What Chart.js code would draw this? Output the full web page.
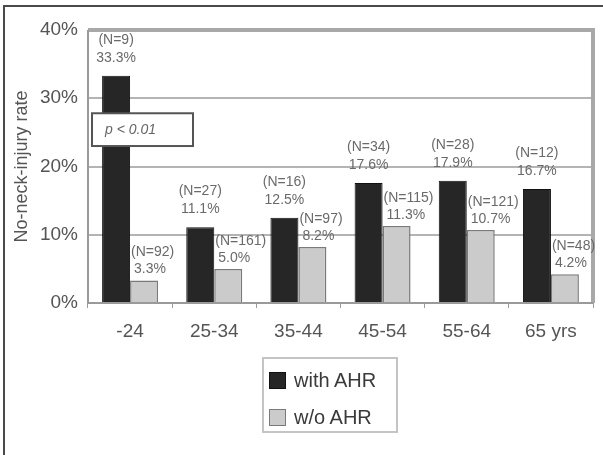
<!DOCTYPE html>
<html>
<head>
<meta charset="utf-8">
<script src="https://cdn.jsdelivr.net/npm/chart.js@4.4.0/dist/chart.umd.min.js"></script>
<style>
  body { margin: 0; background: #fff; }
  #wrap { position: relative; width: 603px; height: 455px; overflow: hidden; }
  #frame { position: absolute; left: 3px; top: 5px; right: -5px; bottom: -5px;
           border-left: 2px solid #4a4a4a; border-top: 2px solid #4a4a4a; pointer-events: none; }
  canvas { position: absolute; left: 0; top: 0; }
  #legend { position: absolute; left: 262px; top: 357px; width: 132px; height: 72px;
            border: 2px solid #c4c4c4; font: 20px "Liberation Sans", Arial, sans-serif; color: #3a3a3a; }
  .item { position: absolute; left: 5px; height: 20px; line-height: 20px; white-space: nowrap; }
  .swatch { display: inline-block; width: 15px; height: 15px; border: 1px solid; vertical-align: -2px; margin-right: 8px; }
</style>
</head>
<body>
<div id="wrap">
  <canvas id="myChart" width="603" height="455"></canvas>
  <div id="frame"></div>
  <div id="legend"></div>
</div>
<script>
const ageGroups = ['-24', '25-34', '35-44', '45-54', '55-64', '65 yrs'];
const withAHR = [33.3, 11.1, 12.5, 17.6, 17.9, 16.7];
const withoutAHR = [3.3, 5.0, 8.2, 11.3, 10.7, 4.2];
const withAHRCount = [9, 27, 16, 34, 28, 12];
const withoutAHRCount = [92, 161, 97, 115, 121, 48];
const yTickLabels = ['0%', '10%', '20%', '30%', '40%'];

const FONT = '"Liberation Sans", Arial, sans-serif';

// gray frame round the plot area
const plotFrame = {
    id: 'plotFrame',
    beforeDatasetsDraw(chart) {
        const {ctx, chartArea: a} = chart;
        ctx.save();
        ctx.strokeStyle = '#a8a8a8';
        ctx.lineWidth = 4;
        ctx.beginPath();
        ctx.moveTo(a.left, a.top);
        ctx.lineTo(a.right, a.top);
        ctx.lineTo(a.right, a.bottom);
        ctx.stroke();
        ctx.lineWidth = 2;
        ctx.strokeStyle = '#9a9a9a';
        ctx.beginPath();
        ctx.moveTo(a.left, a.top);
        ctx.lineTo(a.left, a.bottom);
        ctx.lineTo(a.right, a.bottom);
        ctx.stroke();
        ctx.restore();
    }
};

// "(N=..)" and percent above each bar, then the p-value box
const barLabels = {
    id: 'barLabels',
    afterDatasetsDraw(chart) {
        const ctx = chart.ctx;
        const counts = [withAHRCount, withoutAHRCount];
        ctx.save();
        ctx.font = '14px ' + FONT;
        ctx.fillStyle = '#6a6a6a';
        ctx.textBaseline = 'middle';
        chart.data.datasets.forEach((ds, d) => {
            chart.getDatasetMeta(d).data.forEach((bar, i) => {
                const lines = ['(N=' + counts[d][i] + ')', ds.data[i].toFixed(1) + '%'];
                if (d === 0) {
                    ctx.textAlign = 'center';
                    ctx.fillText(lines[0], bar.x, bar.y - 36);
                    ctx.fillText(lines[1], bar.x, bar.y - 18);
                } else {
                    ctx.textAlign = 'left';
                    const x = bar.x - bar.width / 2 + 1;
                    ctx.fillText(lines[0], x, bar.y - 28);
                    ctx.fillText(lines[1], x + 3, bar.y - 11);
                }
            });
        });

        const y = chart.scales.y;
        const x0 = chart.chartArea.left + 4;
        const y0 = y.getPixelForValue(27.8);
        const y1 = y.getPixelForValue(23.0);
        ctx.fillStyle = '#fff';
        ctx.fillRect(x0, y0, 101, y1 - y0);
        ctx.strokeStyle = '#555';
        ctx.lineWidth = 2;
        ctx.strokeRect(x0, y0, 101, y1 - y0);
        ctx.fillStyle = '#666';
        ctx.textAlign = 'left';
        ctx.font = 'italic 14px ' + FONT;
        ctx.fillText('p < 0.01', x0 + 13, (y0 + y1) / 2);
        ctx.restore();
    }
};

const ctx = document.getElementById('myChart').getContext('2d');

const myChart = new Chart(ctx, {
    type: 'bar',
    data: {
        labels: ageGroups,
        datasets: [{
            label: 'with AHR',
            data: withAHR,
            backgroundColor: '#262626',
            borderColor: '#111111',
            borderWidth: 1
        }, {
            label: 'w/o AHR',
            data: withoutAHR,
            backgroundColor: '#cbcbcb',
            borderColor: '#7a7a7a',
            borderWidth: 1.5
        }]
    },
    options: {
        responsive: false,
        animation: false,
        devicePixelRatio: 1,
        layout: { padding: { top: 30, right: 10, left: 0, bottom: 0 } },
        datasets: { bar: { categoryPercentage: 0.665, barPercentage: 1.0 } },
        plugins: {
            legend: { display: false },
            tooltip: { enabled: false }
        },
        scales: {
            x: {
                grid: { display: true, drawOnChartArea: false, drawTicks: true, tickLength: 5, offset: true, color: '#999' },
                border: { display: false },
                ticks: { color: '#555', font: { size: 19, family: FONT }, padding: 12 },
                afterFit(scale) { scale.height = 152; }
            },
            y: {
                min: 0,
                max: 40,
                border: { display: false },
                grid: { color: '#b4b4b4', lineWidth: 2, drawTicks: false },
                ticks: {
                    stepSize: 10,
                    padding: 10,
                    color: '#555',
                    font: { size: 19, family: FONT },
                    callback: (v, i) => yTickLabels[i]
                },
                title: {
                    display: true,
                    text: 'No-neck-injury rate',
                    color: '#555',
                    font: { size: 18, family: FONT },
                    padding: { top: 11, bottom: 0 }
                },
                afterFit(scale) { scale.width = 88; }
            }
        }
    },
    plugins: [plotFrame, barLabels]
});

// legend box below the chart, built from the datasets
const legend = document.getElementById('legend');
myChart.data.datasets.forEach((ds, i) => {
    const item = document.createElement('div');
    item.className = 'item';
    item.style.top = (11 + i * 37) + 'px';
    const sw = document.createElement('span');
    sw.className = 'swatch';
    sw.style.background = ds.backgroundColor;
    sw.style.borderColor = ds.borderColor;
    item.appendChild(sw);
    item.appendChild(document.createTextNode(ds.label));
    legend.appendChild(item);
});
</script>
</body>
</html>
